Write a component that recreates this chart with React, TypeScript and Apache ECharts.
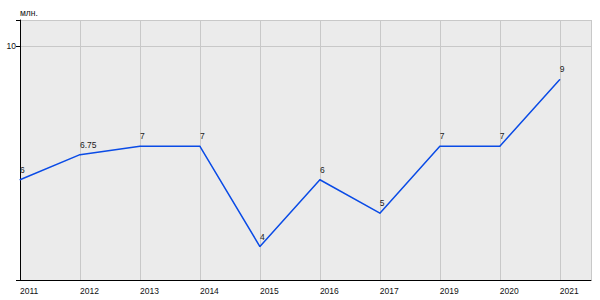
import React, { useEffect, useRef } from "react";
import * as echarts from "echarts";

const years = ["2011", "2012", "2013", "2014", "2015", "2016", "2017", "2019", "2020", "2021"];
const values = [6, 6.75, 7, 7, 4, 6, 5, 7, 7, 9];
const yUnit = "млн.";

export default function App() {
  const ref = useRef<HTMLDivElement>(null);
  useEffect(() => {
    const chart = echarts.init(ref.current!, null, { renderer: "svg" });
    const font = "Arial, 'Liberation Sans', sans-serif";
    chart.setOption({
      animation: false,
      grid: {
        left: 20,
        right: 9,
        top: 20,
        bottom: 20,
        show: true,
        backgroundColor: "#ebebeb",
        borderWidth: 0,
      },
      xAxis: {
        type: "value",
        min: 0,
        max: 9.52,
        interval: 1,
        axisLine: { show: true, lineStyle: { color: "#000", width: 1 } },
        axisTick: { show: false },
        splitLine: { show: true, lineStyle: { color: "#c8c8c8", width: 1 } },
        axisLabel: {
          formatter: (v: number) => (Number.isInteger(v) && years[v] ? years[v] : ""),
          align: "left",
          color: "#111",
          fontSize: 8.5,
          fontFamily: font,
          margin: 6,
          showMaxLabel: false,
        },
      },
      yAxis: {
        type: "value",
        min: 3,
        max: 10.78,
        interval: 7,
        name: yUnit,
        nameLocation: "end",
        nameGap: 3,
        nameTextStyle: { align: "left", color: "#111", fontSize: 8.5, fontFamily: font },
        axisLine: { show: true, lineStyle: { color: "#000", width: 1 } },
        axisTick: { show: true, length: 4, lineStyle: { color: "#000" } },
        splitLine: { show: true, lineStyle: { color: "#c8c8c8", width: 1 } },
        axisLabel: {
          formatter: (v: number) => (v === 10 ? "10" : ""),
          color: "#111",
          fontSize: 8.5,
          fontFamily: font,
          margin: 4,
          verticalAlign: "middle",
          padding: [0, 0, 5, 0],
        },
      },
      series: [
        {
          type: "line",
          data: values.map((v, i) => [i, v]),
          showSymbol: true,
          symbol: "circle",
          symbolSize: 1,
          itemStyle: { color: "#0a4be6" },
          lineStyle: { color: "#0a4be6", width: 1.5 },
          label: {
            show: true,
            position: "top",
            align: "left",
            distance: 5,
            color: "#222",
            fontSize: 8.5,
            fontFamily: font,
            formatter: (p: any) => String(values[p.dataIndex]),
          },
        },
      ],
    });
    return () => chart.dispose();
  }, []);
  return <div ref={ref} style={{ width: 600, height: 300, position: "absolute", left: 0, top: 0 }} />;
}
